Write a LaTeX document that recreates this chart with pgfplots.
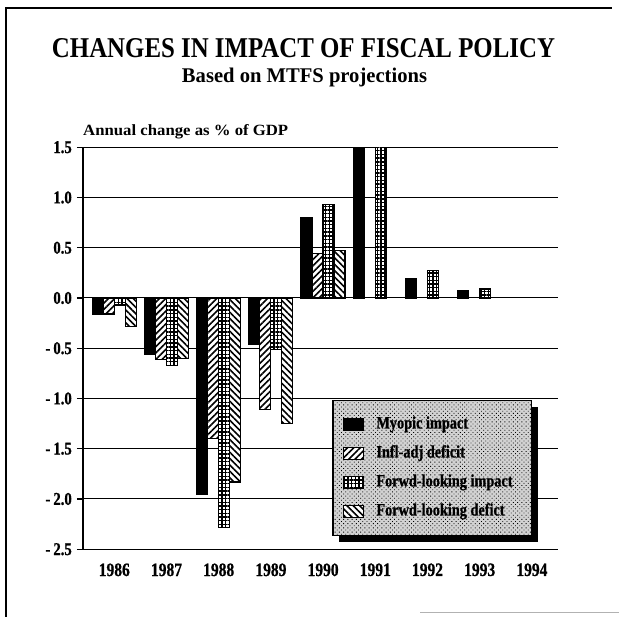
\documentclass[border=0pt]{standalone}
\usepackage{fontspec}
\setmainfont{Liberation Serif}
\newfontfamily\cf{Liberation Serif}[FakeStretch=0.82, BoldFeatures={FakeBold=0.8}]
\usepackage{graphicx}
\usepackage{pgfplots}
\pgfplotsset{compat=1.18}
\usetikzlibrary{patterns.meta}
\pgfplotsset{boxlegend/.style={legend image code/.code={\draw[##1] (0bp,-6bp) rectangle (20bp,6bp);}}}
\pgfplotstableread{
x  myo    infl   fimp   fdef
0  -0.16  -0.16  -0.07  -0.28
1  -0.56  -0.61  -0.67  -0.60
2  -1.95  -1.40  -2.28  -1.83
3  -0.46  -1.11  -0.51  -1.25
4   0.80   0.44   0.93   0.47
}\early
\pgfplotstableread{
x  myo   fimp
5  1.90  1.90
6  0.19  0.27
7  0.07  0.09
}\late
\begin{document}
\begin{tikzpicture}[x=1bp,y=1bp]
\path[use as bounding box] (0,0) rectangle (619,617);
\draw[line width=2bp] (6,609) -- (6,0);
\draw[line width=1.2bp] (5,609) -- (612,609);
\draw[gray!60, line width=1bp] (420,4) -- (619,4);
\node[anchor=base, inner sep=0pt] at (303.5,559) {\resizebox{503bp}{19bp}{\bfseries CHANGES IN IMPACT OF FISCAL POLICY}};
\node[anchor=base, inner sep=0pt] at (304.5,534) {\resizebox{245bp}{14.5bp}{\bfseries Based on MTFS projections}};
\node[anchor=base west, inner sep=0pt] at (83,481) {\resizebox{205bp}{11bp}{\bfseries Annual change as \% of GDP}};
\coordinate (AXO) at (114.3,319);
\begin{axis}[at={(AXO)}, anchor=origin, scale only axis, width=475bp, height=402bp,
  xmin=-0.6, xmax=8.5, ymin=-2.5, ymax=1.5,
  axis x line*=bottom, axis y line*=left, axis line style={-, line width=1.2bp},
  ytick={-2.5,-2,-1.5,-1,-0.5,0,0.5,1,1.5},
  yticklabels={{-\,2.5},{-\,2.0},{-\,1.5},{-\,1.0},{-\,0.5},{0.0},{0.5},{1.0},{1.5}},
  xtick={0,1,2,3,4,5,6,7,8},
  xticklabels={1986,1987,1988,1989,1990,1991,1992,1993,1994},
  ymajorgrids, grid style={black, line width=1bp},
  tick align=outside, major tick length=6bp,
  xtick style={draw=none}, ytick style={black, line width=1.2bp},
  yticklabel style={font=\cf\bfseries\fontsize{18}{18}\selectfont, inner sep=0pt, anchor=east, xshift=-5bp},
  xticklabel style={font=\cf\bfseries\fontsize{19}{19}\selectfont, inner sep=0pt, anchor=north, yshift=-8bp},
  ybar, bar width=11bp,
  legend style={at={(axis cs:4.381,-1.177)}, anchor=north west, draw=none, fill=none,
    inner sep=0pt, row sep=13bp,
    nodes={inner sep=0pt, text height=12bp, text depth=4bp, font=\cf\bfseries\fontsize{17.5}{17.5}\selectfont},
    /tikz/every odd column/.append style={column sep=12bp}},
  legend cell align=left,
]
\addplot[draw=black, fill=black, line width=1.2bp, bar shift=-16.5bp, boxlegend]
  table[x=x, y=myo] {\early};
\addlegendentry{Myopic impact}
\addplot[draw=black, line width=1.2bp, preaction={fill=white},
  pattern={Lines[angle=45,distance=4.5bp,line width=1.6bp]}, bar shift=-5.5bp, boxlegend]
  table[x=x, y=infl] {\early};
\addlegendentry{Infl-adj deficit}
\addplot[draw=black, line width=1.2bp, preaction={fill=white},
  pattern={Hatch[angle=0,distance=3.7bp,line width=1.4bp]}, bar shift=5.5bp, boxlegend]
  table[x=x, y=fimp] {\early};
\addlegendentry{Forwd-looking impact}
\addplot[draw=black, line width=1.2bp, preaction={fill=white},
  pattern={Lines[angle=-45,distance=4.5bp,line width=1.6bp]}, bar shift=16.5bp, boxlegend]
  table[x=x, y=fdef] {\early};
\addlegendentry{Forwd-looking defict}
\addplot[draw=black, fill=black, line width=1.2bp, bar shift=-16.5bp, forget plot]
  table[x=x, y=myo] {\late};
\addplot[draw=black, line width=1.2bp, preaction={fill=white},
  pattern={Hatch[angle=0,distance=3.7bp,line width=1.4bp]}, bar shift=5.5bp, forget plot]
  table[x=x, y=fimp] {\late};
\fill[black] ([xshift=6bp,yshift=-7bp]axis cs:4.19,-1.017) rectangle ([xshift=6bp,yshift=-7bp]axis cs:8.0,-2.361);
\path[fill=gray!35, draw=black, line width=1.2bp,
  postaction={pattern={Dots[distance=3bp,radius=0.6bp,angle=45]}, pattern color=black}]
  (axis cs:4.19,-1.017) rectangle (axis cs:8.0,-2.361);
\end{axis}
\end{tikzpicture}
\end{document}
